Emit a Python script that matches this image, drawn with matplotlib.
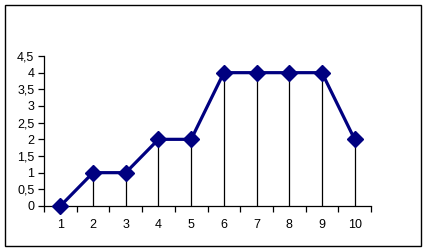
import matplotlib
matplotlib.use("Agg")
import matplotlib.pyplot as plt
from matplotlib.patches import Rectangle
import numpy as np

categorias = [1, 2, 3, 4, 5, 6, 7, 8, 9, 10]
valores = [0, 1, 1, 2, 2, 4, 4, 4, 4, 2]
yticks = [0, 0.5, 1, 1.5, 2, 2.5, 3, 3.5, 4, 4.5]
ytick_labels = ["0", "0,5", "1", "1,5", "2", "2,5", "3", "3,5", "4", "4,5"]

plt.rcParams['font.family'] = ['Liberation Sans', 'DejaVu Sans']

fig = plt.figure(figsize=(4.28, 2.52), dpi=100)
fig.patch.set_facecolor('white')
fig.patches.append(Rectangle((5/428, 1-246/252), 416/428, 241/252,
                             transform=fig.transFigure, fill=False,
                             edgecolor='black', linewidth=1.0))

ax = fig.add_axes([44/428, 1-206/252, 327/428, 150/252])

# lineas verticales desde cada punto
ax.vlines(categorias, 0, valores, colors='black', linewidth=0.9, zorder=1)
ax.plot(categorias, valores, color='#000080', linewidth=2.3,
        marker='D', markersize=8, markerfacecolor='#000080',
        markeredgecolor='#000080', zorder=3, clip_on=False)

ax.set_xlim(0.5, 10.5)
ax.set_ylim(0, 4.5)
ax.set_yticks(yticks)
ax.set_yticklabels(ytick_labels)
ax.set_xticks(categorias)
ax.set_xticks(np.arange(0.5, 11, 1), minor=True)
ax.tick_params(axis='x', which='major', length=0, pad=9, labelsize=9)
ax.tick_params(axis='x', which='minor', length=4, direction='out', width=0.9)
ax.tick_params(axis='y', length=4, direction='out', width=0.9, labelsize=9, pad=3)

for s in ['top', 'right']:
    ax.spines[s].set_visible(False)
for s in ['left', 'bottom']:
    ax.spines[s].set_linewidth(0.9)

fig.savefig("out.png", dpi=100)
